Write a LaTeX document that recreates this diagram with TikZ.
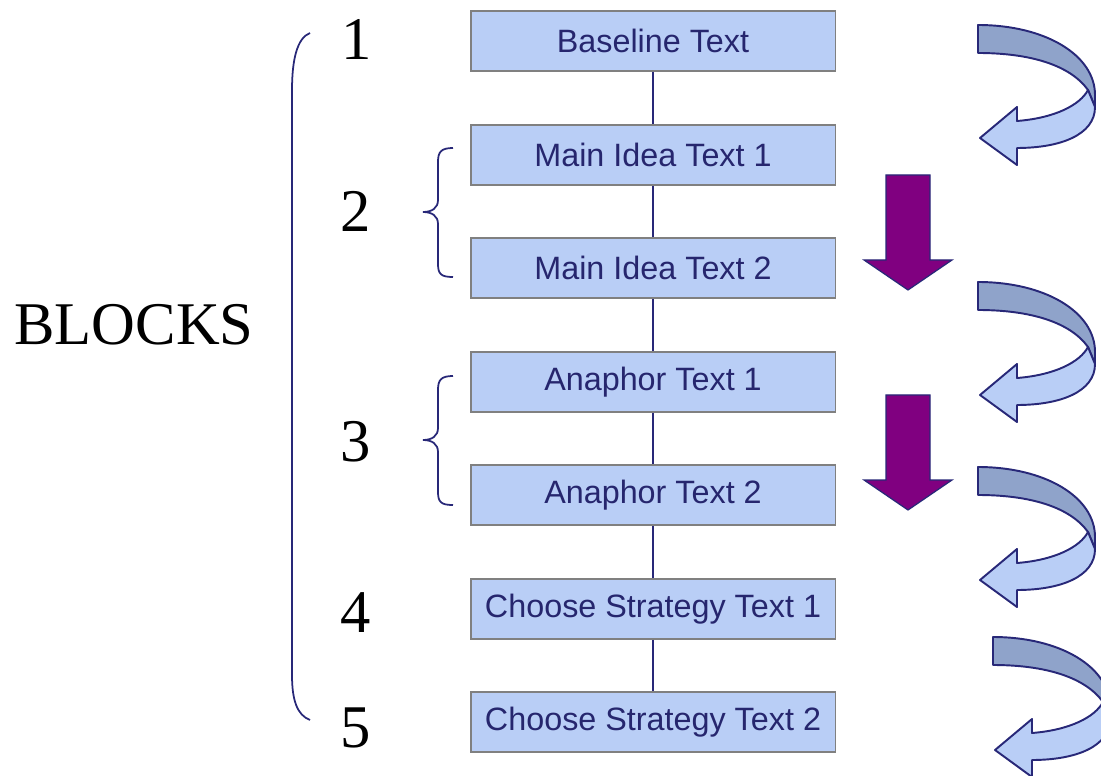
\documentclass[tikz,border=0pt]{standalone}
\usepackage{fontspec}
\setmainfont{Liberation Serif}
\setsansfont{Liberation Sans}
\usetikzlibrary{positioning}
\definecolor{boxblue}{RGB}{185,206,246}
\definecolor{ribbondark}{RGB}{143,163,202}
\definecolor{navyline}{RGB}{40,40,120}
\definecolor{textnavy}{RGB}{38,38,110}
\definecolor{darkplum}{RGB}{128,0,128}
\tikzset{
  blockbox/.style={draw=gray, line width=1.1pt, fill=boxblue,
    minimum width=7.3cm, minimum height=1.2cm, inner sep=0pt,
    font=\sffamily\fontsize{18.4}{21}\selectfont, text=textnavy},
  link/.style={draw=navyline, line width=1.1pt},
  bignum/.style={anchor=base, font=\fontsize{34.5}{40}\selectfont},
  bracket/.style={draw=navyline, line width=1pt},
  smallbrace/.pic={
    \draw[bracket] (30,-64) .. controls (18,-64) and (15,-60) .. (15,-50)
      -- (15,-12) .. controls (15,-4) and (9,0) .. (0,0)
      .. controls (9,0) and (15,4) .. (15,12)
      -- (15,52) .. controls (15,62) and (18,65) .. (30,65);
  },
  downarrow/.pic={
    \draw[fill=darkplum, draw=navyline, line width=0.7pt, line join=miter]
      (-22,-115) -- (22,-115) -- (22,-30) -- (44,-30) -- (0,0)
      -- (-44,-30) -- (-22,-30) -- cycle;
  },
  turnarrow/.pic={
    \draw[fill=ribbondark, draw=navyline, line width=1.1pt, line join=round]
      (0,0) .. controls (67,0) and (117,30) .. (117,70) -- (117,82)
      -- (110,65) .. controls (92,40) and (52,28) .. (0,28) -- cycle;
    \draw[fill=boxblue, draw=navyline, line width=1.1pt, line join=round]
      (110,65) -- (117,82) .. controls (117,110) and (82,123) .. (39,123)
      -- (39,140) -- (2,113) -- (39,82) -- (39,96)
      .. controls (77,93) and (102,80) .. (110,65) -- cycle;
  }
}
\begin{document}
\begin{tikzpicture}[x=0.02cm, y=-0.02cm]
\useasboundingbox (0,0) rectangle (1101,776);
% boites
\node[blockbox] (base) at (653,41) {Baseline Text};
\node[blockbox] (main1) at (653,155) {Main Idea Text 1};
\node[blockbox] (main2) at (653,268) {Main Idea Text 2};
\node[blockbox] (ana1) at (653,382) {Anaphor Text 1};
\node[blockbox] (ana2) at (653,495) {Anaphor Text 2};
\node[blockbox] (strat1) at (653,609) {Choose Strategy Text 1};
\node[blockbox] (strat2) at (653,722) {Choose Strategy Text 2};
% liens
\draw[link] (base) -- (main1);
\draw[link] (main1) -- (main2);
\draw[link] (main2) -- (ana1);
\draw[link] (ana1) -- (ana2);
\draw[link] (ana2) -- (strat1);
\draw[link] (strat1) -- (strat2);
% numeros
\node[bignum] (n1) at (357,60) {1};
\node[bignum] (n2) at (356,232) {2};
\node[bignum] (n3) at (356,461) {3};
\node[bignum] (n4) at (356,632) {4};
\node[bignum] (n5) at (356,747) {5};
\node[bignum] (blocks) at (134,345) {BLOCKS};
% accolades
\draw[bracket] (310,33) .. controls (297,38) and (292,60) .. (292,90)
  -- (292,675) .. controls (292,700) and (297,715) .. (310,720);
\pic at (423,212) {smallbrace};
\pic at (423,440) {smallbrace};
% fleches
\pic at (908,290) {downarrow};
\pic at (908,510) {downarrow};
\pic at (978,25) {turnarrow};
\pic at (978,282) {turnarrow};
\pic at (978,467) {turnarrow};
\begin{scope}
\clip (0,0) rectangle (1101,776);
\pic at (993,637) {turnarrow};
\end{scope}
\end{tikzpicture}
\end{document}
